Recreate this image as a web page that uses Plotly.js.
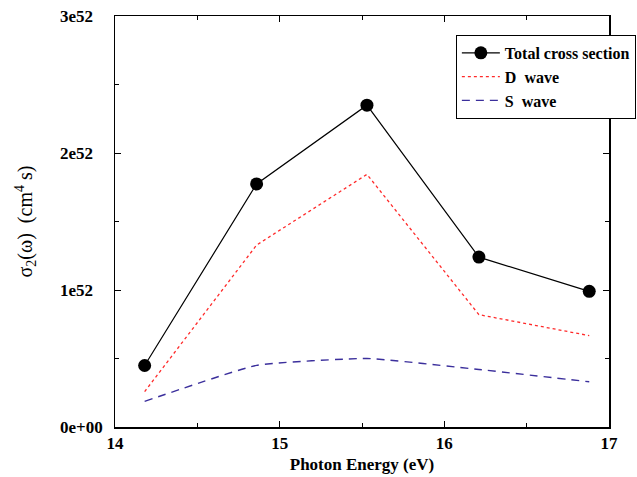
<!DOCTYPE html>
<html><head><meta charset="utf-8">
<script src="https://cdn.plot.ly/plotly-3.0.1.min.js"></script>
<style>body{margin:0;padding:0;background:#fff}#c{width:637px;height:477px}</style>
</head><body><div id="c"></div>
<script>
const energy = [14.18, 14.86, 15.53, 16.21, 16.88];
const total = [0.449e52, 1.774e52, 2.349e52, 1.240e52, 0.990e52];
const dWave = [0.258e52, 1.328e52, 1.844e52, 0.820e52, 0.667e52];
const sWave = [0.187e52, 0.450e52, 0.500e52, 0.420e52, 0.330e52];
const yTickVals = [0, 1e52, 2e52, 3e52];
const yTickText = ['0e+00', '1e52', '2e52', '3e52'];
const xTickVals = [14, 15, 16, 17];

const font = 'Liberation Serif, Times New Roman, serif';
const traces = [
  {x: energy, y: total, name: '<b>Total cross section</b>', mode: 'lines+markers',
   line: {color: '#000', width: 1.2}, marker: {color: '#000', size: 13}},
  {x: energy, y: dWave, name: '<b>D  wave</b>', mode: 'lines',
   line: {color: '#ff2a2a', width: 1.3, dash: 'dot'}},
  {x: energy, y: sWave, name: '<b>S  wave</b>', mode: 'lines',
   line: {color: '#3b2f9c', width: 1.4, dash: '8px,6px', shape: 'spline', smoothing: 0.4}}
];
const annotations = yTickVals.map((v, i) => ({
  x: -0.1154, xref: 'paper', xanchor: 'left', y: v, yref: 'y', yanchor: 'middle',
  text: '<b>' + yTickText[i] + '</b>', showarrow: false,
  font: {family: font, size: 17, color: '#000'}
}));
const layout = {
  width: 637, height: 477,
  margin: {l: 115, r: 28, t: 15.5, b: 49.5, autoexpand: false},
  paper_bgcolor: '#fff', plot_bgcolor: '#fff',
  font: {family: font, color: '#000'},
  showlegend: true,
  annotations: annotations,
  legend: {x: 0.690, y: 0.954, xanchor: 'left', yanchor: 'top',
    bgcolor: '#fff', bordercolor: '#000', borderwidth: 1, itemwidth: 38,
    font: {family: font, size: 16, color: '#000'}, tracegroupgap: 0},
  xaxis: {range: [14, 17], tickvals: xTickVals, ticktext: xTickVals.map(v => '<b>' + v + '</b>'),
    ticks: 'inside', ticklen: 6, tickwidth: 1, tickcolor: '#000',
    minor: {dtick: 0.5, ticks: 'inside', ticklen: 4, tickcolor: '#000'},
    showline: true, linecolor: '#000', linewidth: 1.5, mirror: 'allticks',
    showgrid: false, zeroline: false, automargin: false,
    tickfont: {family: font, size: 17, color: '#000'},
    title: {text: '<b>Photon Energy (eV)</b>', font: {family: font, size: 17, color: '#000'}, standoff: 6}},
  yaxis: {range: [0, 3e52], tickvals: yTickVals, showticklabels: false,
    ticks: 'inside', ticklen: 6, tickwidth: 1, tickcolor: '#000',
    minor: {dtick: 0.5e52, ticks: 'inside', ticklen: 4, tickcolor: '#000'},
    showline: true, linecolor: '#000', linewidth: 1.5, mirror: 'allticks',
    showgrid: false, zeroline: false, automargin: false,
    title: {text: 'σ<sub>2</sub>(ω)  (cm<sup>4</sup> s)', font: {family: font, size: 20, color: '#000'}, standoff: 75}}
};
Plotly.newPlot('c', traces, layout, {displayModeBar: false, staticPlot: true});
</script></body></html>
